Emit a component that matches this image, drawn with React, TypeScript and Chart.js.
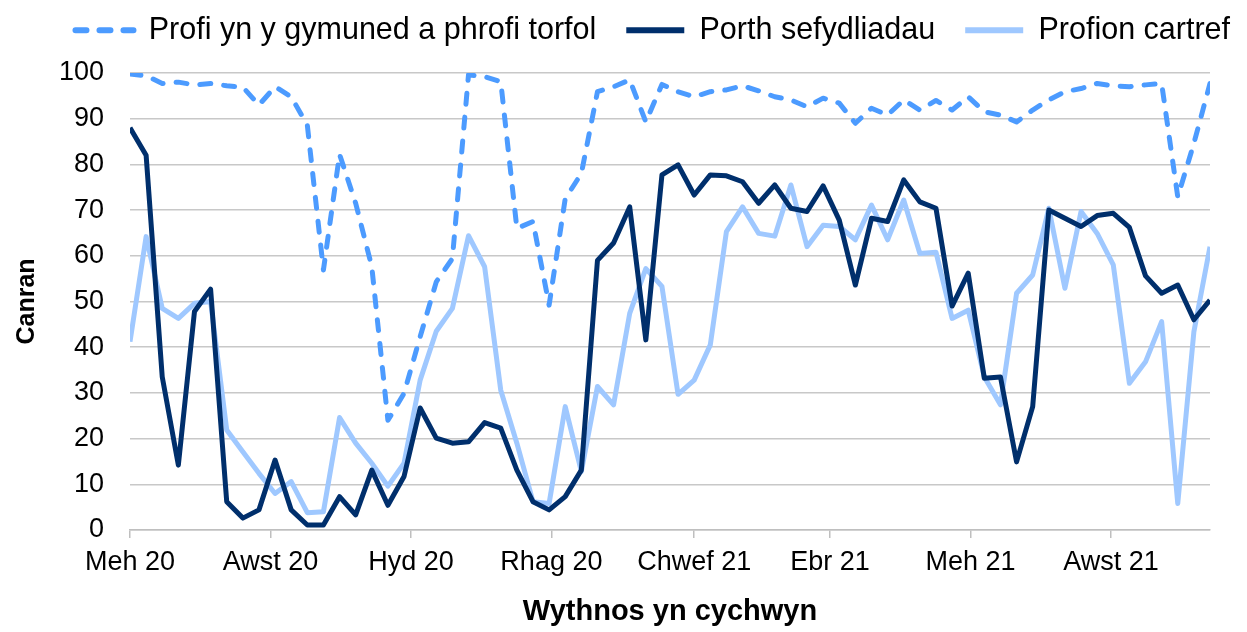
import { useEffect, useRef } from "react";
import { Chart, registerables } from "chart.js";

Chart.register(...registerables);

const seriesNames = [
  "Profi yn y gymuned a phrofi torfol",
  "Porth sefydliadau",
  "Profion cartref",
];

// Tick positions are days since the first week (1 June 2020)
const tickDays = [0, 61, 122, 183, 245, 304, 365, 426];
const tickLabels = ["Meh 20", "Awst 20", "Hyd 20", "Rhag 20", "Chwef 21", "Ebr 21", "Meh 21", "Awst 21"];
const yTitle = "Canran";
const xTitle = "Wythnos yn cychwyn";
const daysPerWeek = 7;

const community = [
  99.8, 99.4, 97.7, 98, 97.4, 97.7, 97.2, 96.9, 93, 97,
  94.8, 88.6, 56.9, 82.2, 71.5, 57.6, 24, 29.9, 42.3, 54.3,
  59.4, 99.6, 99.2, 98.1, 66, 67.5, 49.2, 72.5, 78, 95.9,
  97, 98.5, 89.3, 97.5, 95.9, 94.8, 95.9, 96.3, 97.2, 96.1,
  94.8, 94.1, 92.6, 94.5, 93.4, 89, 92.3, 90.8, 94.1, 91.9,
  94, 91.9, 94.8, 91.5, 90.8, 89.3, 91.9, 94.1, 95.9, 96.6,
  97.7, 97.2, 97, 97.4, 97.7, 72.9, 84.6, 97.7,
];

const institutions = [
  88, 82, 33.5, 14.2, 47.8, 52.7, 6.2, 2.6, 4.4, 15.3,
  4.4, 1.1, 1.1, 7.3, 3.3, 13.1, 5.4, 11.7, 26.7, 20.1,
  19, 19.3, 23.5, 22.3, 13.1, 6.2, 4.4, 7.3, 13.1, 59,
  62.8, 70.7, 41.6, 77.7, 79.9, 73.3, 77.7, 77.5, 76.2, 71.5,
  75.5, 70.4, 69.7, 75.3, 67.8, 53.6, 68.2, 67.5, 76.6, 71.8,
  70.4, 49, 56.2, 33.2, 33.5, 14.9, 27, 70, 68.2, 66.4,
  68.8, 69.3, 66.2, 55.6, 51.8, 53.6, 46, 50.3,
];

const home = [
  41.2, 64.2, 48.5, 46.3, 49.6, 50, 21.9, 17.1, 12.4, 8,
  10.6, 3.8, 4, 24.6, 19, 14.6, 9.6, 14.6, 32.8, 43.5,
  48.5, 64.4, 57.6, 30.6, 19, 6.2, 5.8, 27, 12.8, 31.4,
  27.4, 47.4, 57.2, 53.3, 29.7, 32.8, 40.5, 65.3, 70.7, 64.9,
  64.3, 75.5, 62, 66.7, 66.4, 63.5, 71.1, 63.5, 72.2, 60.5,
  60.8, 46.3, 48.1, 33.5, 27.4, 51.8, 55.8, 70.4, 52.9, 69.7,
  64.9, 58, 32.1, 36.8, 45.6, 5.8, 43.4, 62,
];

const FONT = "'Liberation Sans', Arial, sans-serif";
const LEGEND_TOP = -15;
const PLOT_TOP = 73;

const legendHeightPlugin = {
  id: "legendHeight",
  beforeInit(chart: any) {
    const legend = chart.legend;
    if (!legend) return;
    const origFit = legend.fit;
    legend.fit = function () {
      origFit.call(this);
      this.height = PLOT_TOP - LEGEND_TOP;
    };
  },
};

export default function App() {
  const ref = useRef<HTMLCanvasElement>(null);

  useEffect(() => {
    const toPoints = (vals: number[]) => vals.map((v, i) => ({ x: i * daysPerWeek, y: v }));
    const lastDay = (community.length - 1) * daysPerWeek;
    const chart = new Chart(ref.current as HTMLCanvasElement, {
      type: "line",
      data: {
        datasets: [
          {
            label: seriesNames[0],
            data: toPoints(community),
            borderColor: "#4C9BFF",
            backgroundColor: "#4C9BFF",
            borderWidth: 5,
            borderDash: [11, 13],
            borderCapStyle: "round",
            borderJoinStyle: "round",
            yAxisID: "y",
          },
          {
            label: seriesNames[1],
            data: toPoints(institutions),
            borderColor: "#002F6C",
            backgroundColor: "#002F6C",
            borderWidth: 5,
            borderJoinStyle: "round",
            yAxisID: "y",
          },
          {
            label: seriesNames[2],
            data: toPoints(home),
            borderColor: "#9FC8FF",
            backgroundColor: "#9FC8FF",
            borderWidth: 5,
            borderJoinStyle: "round",
            yAxisID: "y",
          },
        ],
      },
      plugins: [legendHeightPlugin],
      options: {
        animation: false,
        responsive: true,
        maintainAspectRatio: false,
        layout: { padding: { top: LEGEND_TOP, left: 0, right: -13, bottom: 0 } },
        elements: { point: { radius: 0, hoverRadius: 0 }, line: { tension: 0 } },
        plugins: {
          legend: {
            position: "top",
            align: "end",
            labels: {
              usePointStyle: true,
              pointStyle: "line",
              pointStyleWidth: 58,
              padding: 30,
              color: "#000",
              font: { family: FONT, size: 30.5 },
              generateLabels: (c: any) => {
                const items = Chart.defaults.plugins.legend.labels.generateLabels(c);
                items.forEach((it: any, i: number) => {
                  const ds: any = c.data.datasets[i];
                  it.lineDash = ds.borderDash || [];
                  it.lineCap = ds.borderCapStyle || "butt";
                  it.lineWidth = 6;
                  it.strokeStyle = ds.borderColor;
                });
                return items;
              },
            },
          },
          tooltip: { enabled: false },
        },
        scales: {
          x: {
            type: "linear",
            min: 0,
            max: lastDay,
            afterBuildTicks: (s: any) => {
              s.ticks = tickDays.map((v) => ({ value: v }));
            },
            afterFit: (s: any) => {
              s.height = 102;
            },
            ticks: {
              autoSkip: false,
              maxRotation: 0,
              padding: 8,
              color: "#000",
              font: { family: FONT, size: 27 },
              callback: (_v: any, i: number) => tickLabels[i],
            },
            grid: {
              drawOnChartArea: false,
              drawTicks: true,
              tickLength: 8,
              color: "#bfbfbf",
              lineWidth: 1.5,
            },
            border: { display: true, color: "#bfbfbf", width: 1.5 },
            title: {
              display: true,
              text: xTitle,
              color: "#000",
              font: { family: FONT, size: 29, weight: "bold" },
              padding: { top: 0, bottom: 3 },
            },
          },
          y: {
            min: 0,
            max: 100,
            afterFit: (s: any) => {
              s.width = 130;
            },
            ticks: {
              stepSize: 10,
              padding: 26,
              color: "#000",
              font: { family: FONT, size: 27 },
            },
            grid: { drawTicks: false, color: "#c8c8c8", lineWidth: 1.5 },
            border: { display: false },
            title: {
              display: true,
              text: yTitle,
              color: "#000",
              font: { family: FONT, size: 25, weight: "bold" },
              padding: { top: 12, bottom: 0 },
            },
          },
          y2: {
            position: "right",
            afterFit: (s: any) => {
              s.width = 50;
            },
            ticks: { display: false },
            grid: { display: false },
            border: { display: false },
          },
        },
      },
    } as any);
    return () => chart.destroy();
  }, []);

  return (
    <div style={{ position: "fixed", left: 0, top: 0, width: 1247, height: 632 }}>
      <canvas ref={ref} />
    </div>
  );
}
